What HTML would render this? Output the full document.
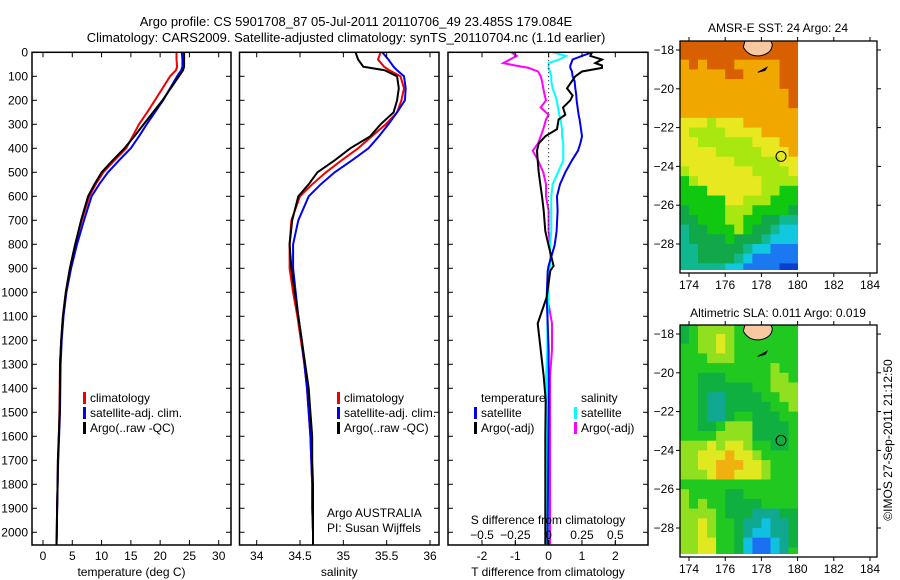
<!DOCTYPE html>
<html><head><meta charset="utf-8">
<style>
html,body{margin:0;padding:0;background:#fff;}
svg{display:block;font-family:"Liberation Sans",sans-serif;}
text{font-size:12px;fill:#000;}
</style></head>
<body>
<svg id="fig" width="900" height="580" viewBox="0 0 900 580" xmlns="http://www.w3.org/2000/svg">
<text x="356" y="26" text-anchor="middle" style="font-size:13px">Argo profile: CS 5901708_87 05-Jul-2011 20110706_49 23.485S 179.084E</text>
<text x="346" y="42" text-anchor="middle" style="font-size:13px">Climatology: CARS2009. Satellite-adjusted climatology: synTS_20110704.nc (1.1d earlier)</text>
<text x="778" y="32" text-anchor="middle">AMSR-E SST: 24 Argo: 24</text>
<text x="778" y="317" text-anchor="middle">Altimetric SLA: 0.011 Argo: 0.019</text>
<text transform="translate(892,440) rotate(-90)" text-anchor="middle">©IMOS 27-Sep-2011 21:12:50</text>
<g id="plots"></g>
</svg>
<script>
// ---- data ----
const depths = [0,30,60,75,100,150,200,250,300,350,400,450,500,550,600,700,800,900,1000,1100,1200,1300,1400,1500,1600,1700,1800,1900,2000,2050];
const tempArgo = [24.1,24.1,24.1,23.9,23.2,21.8,20.4,18.8,17.2,15.6,13.9,11.9,10.0,8.8,7.7,6.5,5.5,4.6,3.9,3.4,3.1,2.9,2.9,2.85,2.7,2.55,2.5,2.4,2.35,2.3];
const tempClim = [22.8,22.8,22.9,22.7,21.7,20.4,19.1,17.8,16.4,15.3,14.2,12.2,10.3,9.0,7.9,6.6,5.5,4.6,3.9,3.4,3.1,2.9,2.85,2.8,2.7,2.55,2.5,2.4,2.35,2.3];
const tempSat = [23.7,23.8,23.8,23.6,22.9,21.7,20.5,19.1,17.7,16.4,15.0,13.0,11.1,9.6,8.3,7.0,5.8,4.8,4.0,3.5,3.2,3.0,2.95,2.9,2.75,2.6,2.5,2.4,2.35,2.3];
const salArgo = [35.14,35.17,35.23,35.48,35.62,35.64,35.62,35.58,35.43,35.31,35.08,34.9,34.7,34.6,34.48,34.41,34.38,34.4,34.44,34.48,34.52,34.56,34.6,34.62,34.64,34.64,34.65,34.65,34.65,34.65];
const salClim = [35.43,35.4,35.47,35.53,35.66,35.7,35.67,35.62,35.49,35.33,35.17,34.98,34.8,34.64,34.5,34.4,34.38,34.38,34.42,34.47,34.51,34.55,34.58,34.6,34.62,34.63,34.64,34.64,34.65,34.65];
const salSat = [35.45,35.52,35.58,35.62,35.7,35.72,35.71,35.62,35.52,35.41,35.29,35.1,34.9,34.74,34.6,34.48,34.42,34.42,34.45,34.48,34.52,34.55,34.58,34.6,34.62,34.63,34.64,34.64,34.65,34.65];
const diffDepths = [0,15,30,45,55,65,80,100,120,150,180,200,230,260,280,320,350,380,410,450,500,550,600,660,745,805,890,910,1020,1130,1240,1350,1450,1600,1800,2000,2050];
const dTArgo = [1.3,1.25,1.6,1.4,1.6,1.6,1.0,0.8,0.7,0.55,0.72,0.65,0.43,0.5,0.3,0.25,-0.1,-0.3,-0.35,-0.33,-0.3,-0.25,-0.2,-0.15,-0.1,0.0,0.15,0.05,-0.06,-0.33,-0.24,-0.15,-0.09,-0.1,-0.1,-0.1,-0.1];
const dTSat = [1.3,1.0,0.72,0.68,0.65,0.65,0.7,0.72,0.78,0.8,0.83,0.84,0.87,0.9,0.93,0.97,1.0,0.95,0.88,0.7,0.5,0.34,0.25,0.27,0.24,0.18,0.0,-0.03,-0.06,-0.03,0.0,0.0,0.0,-0.01,-0.02,-0.03,-0.03];
const dSSat = [0.03,0.13,0.08,0.0,0.0,0.0,0.01,0.02,0.02,0.03,0.05,0.06,0.07,0.08,0.09,0.1,0.1,0.11,0.11,0.11,0.07,0.03,0.02,0.02,0.02,0.01,0.01,0.0,0.0,-0.01,-0.01,-0.02,-0.02,-0.02,-0.02,-0.02,-0.02];
const dSArgo = [-0.28,-0.24,-0.29,-0.34,-0.25,-0.15,-0.08,-0.06,-0.05,-0.04,-0.03,-0.02,-0.06,0.0,-0.02,-0.04,-0.06,-0.08,-0.12,-0.08,-0.04,-0.02,-0.02,0.0,0.0,0.01,0.01,0.0,-0.01,0.025,0.025,0.01,0.01,0.01,0.01,0.01,0.01];
const depthTicks = [0,100,200,300,400,500,600,700,800,900,1000,1100,1200,1300,1400,1500,1600,1700,1800,1900,2000];
const tempTicks = [0,5,10,15,20,25,30];
const salTicks = [34,34.5,35,35.5,36];
const salTickLabels = ["34","34.5","35","35.5","36"];
const dTTicks = [-2,-1,0,1,2];
const dSTicks = [-0.5,-0.25,0,0.25,0.5];
const dSTickLabels = ["\u22120.5","\u22120.25","0","0.25","0.5"];
const lonTicks = [174,176,178,180,182,184];
const latTicks = [-18,-20,-22,-24,-26,-28];
// map grids: rows from lat -17.5 southward in 0.5 deg, cols from lon 173.5 eastward in 0.5 deg
const sstRows = ["9999999999999","9999999999999","8989998888899","8888899888899","8888888888899","8888888888889","8888888888889","8888888888888","7776777888888","7666677778888","7766666677788","7777666667778","7777776666677","6777777766667","5677777776666","5557777776655","5555577666555","4555566655554","4455566554433","3445556544322","3444454443222","3344444322111","3344443211111","3333322111100"];
const slaRows = ["3455554444444","3455654444444","4455654444444","4445554444444","4444444444544","4433344444554","4433333344555","4432233334455","4432233333445","4432234433344","4433455533334","4444555533334","5556566544334","5566676654444","5566777665444","5556776665444","4444444444444","5444433444444","5454433334444","5555433322233","5565443221223","5565443211223","5566443100123","5566443100124"];
const argoLon = 179.084, argoLat = -23.485;

const sstColors = ["#0a3fd0","#1a78f0","#10c8e0","#10b890","#10a848","#10c810","#a8e810","#e8e820","#f0a800","#d86000"];
const slaColors = ["#1a70f0","#10c0e0","#10a890","#10b040","#20c820","#90e020","#e0e820","#f0b010"];

const NS="http://www.w3.org/2000/svg";
const root=document.getElementById('plots');
function mk(tag,attrs,parent){const e=document.createElementNS(NS,tag);for(const k in attrs)e.setAttribute(k,attrs[k]);(parent||root).appendChild(e);return e;}
function lin(d0,d1,r0,r1){return v=>r0+(v-d0)*(r1-r0)/(d1-d0);}

const TOP=52.3, BOT=545;
const yD = lin(0,2053,TOP,BOT);

function panel(name,x0,x1,xs,series,ticks,tickLabels,xlabel,showDepthLabels){
  const g=mk('g',{});
  
  
  const cp=mk('clipPath',{id:'clip-'+name},g);
  mk('rect',{x:x0,y:TOP,width:x1-x0,height:BOT-TOP},cp);
  const lg=mk('g',{'clip-path':'url(#clip-'+name+')'},g);
  series.forEach(s=>{
    const pts=s.vals.map((v,i)=>s.x(v).toFixed(1)+','+yD(s.depths[i]).toFixed(1)).join(' ');
    const pl=mk('polyline',{points:pts,fill:'none',stroke:s.color,'stroke-width':2,'stroke-linejoin':'miter'},lg);
    
    
  });
  const box=mk('rect',{x:x0,y:TOP,width:x1-x0,height:BOT-TOP,fill:'none',stroke:'#000','stroke-width':1.5},g);
  
  
  depthTicks.forEach(d=>{
    const y=yD(d);
    mk('line',{x1:x0,x2:x0+5,y1:y,y2:y,stroke:'#000'},g);
    mk('line',{x1:x1-5,x2:x1,y1:y,y2:y,stroke:'#000'},g);
    if(showDepthLabels){
      const t=mk('text',{x:x0-4,y:y+4,'text-anchor':'end'},g);
      t.textContent=d;
      
      
    }
  });
  ticks.forEach((v,i)=>{
    const x=xs(v);
    mk('line',{x1:x,x2:x,y1:BOT,y2:BOT-5,stroke:'#000'},g);
    mk('line',{x1:x,x2:x,y1:TOP,y2:TOP+5,stroke:'#000'},g);
    const t=mk('text',{x:x,y:BOT+15,'text-anchor':'middle'},g);
    t.textContent=tickLabels[i];
    
    
  });
  const xl=mk('text',{x:(x0+x1)/2,y:BOT+31,'text-anchor':'middle'},g);
  xl.textContent=xlabel;
  
  
  return g;
}
function legend(g,x,y,items){
  items.forEach((it,i)=>{
    const yy=y+i*15;
    if(it.color){const r=mk('rect',{x:x,y:yy-10,width:3,height:12,fill:it.color},g);
      
      }
    const t=mk('text',{x:x+7,y:yy},g);
    t.textContent=it.label;
    
    
  });
}

// Panel 1: temperature
const xT=lin(0,30,43,218.7);
const g1=panel('temperature-panel',32,231,xT,[
  {name:'temp-climatology',vals:tempClim,depths:depths,x:xT,color:'#f00000'},
  {name:'temp-satellite-adj',vals:tempSat,depths:depths,x:xT,color:'#0000f0'},
  {name:'temp-argo',vals:tempArgo,depths:depths,x:xT,color:'#000'}],
  tempTicks,tempTicks.map(String),'temperature (deg C)',true);
legend(g1,83,402,[{color:'#f00000',label:'climatology'},{color:'#0000f0',label:'satellite-adj. clim.'},{color:'#000',label:'Argo(..raw -QC)'}]);

// Panel 2: salinity
const xS=lin(34,36,256.7,430);
const g2=panel('salinity-panel',239.5,439,xS,[
  {name:'sal-climatology',vals:salClim,depths:depths,x:xS,color:'#f00000'},
  {name:'sal-satellite-adj',vals:salSat,depths:depths,x:xS,color:'#0000f0'},
  {name:'sal-argo',vals:salArgo,depths:depths,x:xS,color:'#000'}],
  salTicks,salTickLabels,'salinity',false);
legend(g2,337,402,[{color:'#f00000',label:'climatology'},{color:'#0000f0',label:'satellite-adj. clim.'},{color:'#000',label:'Argo(..raw -QC)'}]);
legend(g2,320,517,[{label:'Argo AUSTRALIA'},{label:'PI: Susan Wijffels'}]);

// Panel 3: differences
const xdT=lin(-2,2,482,615.3);
const xdS=lin(-0.5,0.5,482,615.3);
const g3=panel('difference-panel',448,648,xdT,[
  {name:'s-diff-argo',vals:dSArgo,depths:diffDepths,x:xdS,color:'#ff00ff'},
  {name:'s-diff-satellite',vals:dSSat,depths:diffDepths,x:xdS,color:'#00ffff'},
  {name:'t-diff-satellite',vals:dTSat,depths:diffDepths,x:xdT,color:'#0000f0'},
  {name:'t-diff-argo',vals:dTArgo,depths:diffDepths,x:xdT,color:'#000'}],
  dTTicks,dTTicks.map(String),'T difference from climatology',false);
const zl=mk('line',{x1:xdT(0),x2:xdT(0),y1:TOP,y2:yD(760),stroke:'#000','stroke-dasharray':'1,3'},g3);


legend(g3,474,402,[{label:'temperature'},{color:'#0000f0',label:'satellite'},{color:'#000',label:'Argo(-adj)'}]);
g3.lastChild.previousSibling; 
legend(g3,574,402,[{label:'salinity'},{color:'#00ffff',label:'satellite'},{color:'#ff00ff',label:'Argo(-adj)'}]);
dSTicks.forEach((v,i)=>{
  const t=mk('text',{x:xdS(v),y:539,'text-anchor':'middle'},g3);
  t.textContent=dSTickLabels[i];
  
  
  mk('line',{x1:xdS(v),x2:xdS(v),y1:BOT,y2:BOT-4,stroke:'#000'},g3);
});
const st=mk('text',{x:548,y:524,'text-anchor':'middle'},g3);
st.textContent='S difference from climatology';



// Maps
function mapPanel(name,top,rows,colors){
  const x0=680,x1=877,y0=top,y1=top+232;
  const xL=lin(174,184,689,870), yL=lin(-18,-28,top+9,top+203);
  const g=mk('g',{});
  
  
  const cp=mk('clipPath',{id:'clip-'+name},g);
  mk('rect',{x:x0,y:y0,width:xL(180.1)-x0,height:y1-y0-3},cp);
  const cg=mk('g',{'clip-path':'url(#clip-'+name+')'},g);
  rows.forEach((row,r)=>{
    for(let c=0;c<row.length;c++){
      const lon=173.5+c*0.5, lat=-17.5-r*0.5;
      const xa=xL(lon), xb=xL(lon+0.5), ya=yL(lat), yb=yL(lat-0.5);
      const cell=mk('rect',{x:xa.toFixed(1),y:ya.toFixed(1),width:(xb-xa+0.4).toFixed(1),height:(yb-ya+0.4).toFixed(1),fill:colors[+row[c]]},cg);
      
      
    }
  });
  const land=mk('path',{d:`M${xL(177.1)},${yL(-17.5)} L${xL(177.0)},${yL(-17.85)} Q${xL(177.3)},${yL(-18.35)} ${xL(177.9)},${yL(-18.3)} Q${xL(178.6)},${yL(-18.2)} ${xL(178.6)},${yL(-17.7)} L${xL(178.5)},${yL(-17.5)} Z`,fill:'#f8c8a0',stroke:'#000','stroke-width':1},cg);
  
  
  const isl=mk('path',{d:`M${xL(177.8)},${yL(-19.15)} L${xL(178.3)},${yL(-18.9)} L${xL(178.2)},${yL(-19.05)} Z`,fill:'#000',stroke:'#000'},cg);
  
  
  const box=mk('rect',{x:x0,y:y0,width:x1-x0,height:y1-y0,fill:'none',stroke:'#000','stroke-width':1.3},g);
  
  
  const mark=mk('circle',{cx:xL(argoLon),cy:yL(argoLat),r:5,fill:'none',stroke:'#000','stroke-width':1},g);
  
  
  lonTicks.forEach(v=>{
    mk('line',{x1:xL(v),x2:xL(v),y1:y0,y2:y0-4,stroke:'#000'},g);
    mk('line',{x1:xL(v),x2:xL(v),y1:y1,y2:y1+4,stroke:'#000'},g);
    const t=mk('text',{x:xL(v),y:y1+16,'text-anchor':'middle'},g);
    t.textContent=v;
    
    
  });
  latTicks.forEach(v=>{
    mk('line',{x1:x0,x2:x0-4,y1:yL(v),y2:yL(v),stroke:'#000'},g);
    mk('line',{x1:x1,x2:x1+4,y1:yL(v),y2:yL(v),stroke:'#000'},g);
    const t=mk('text',{x:x0-6,y:yL(v)+4,'text-anchor':'end'},g);
    t.textContent=String(v).replace('-','\u2212');
    
    
  });
}
mapPanel('sst-map',41,sstRows,sstColors);
mapPanel('sla-map',325,slaRows,slaColors);
</script>
</body></html>
